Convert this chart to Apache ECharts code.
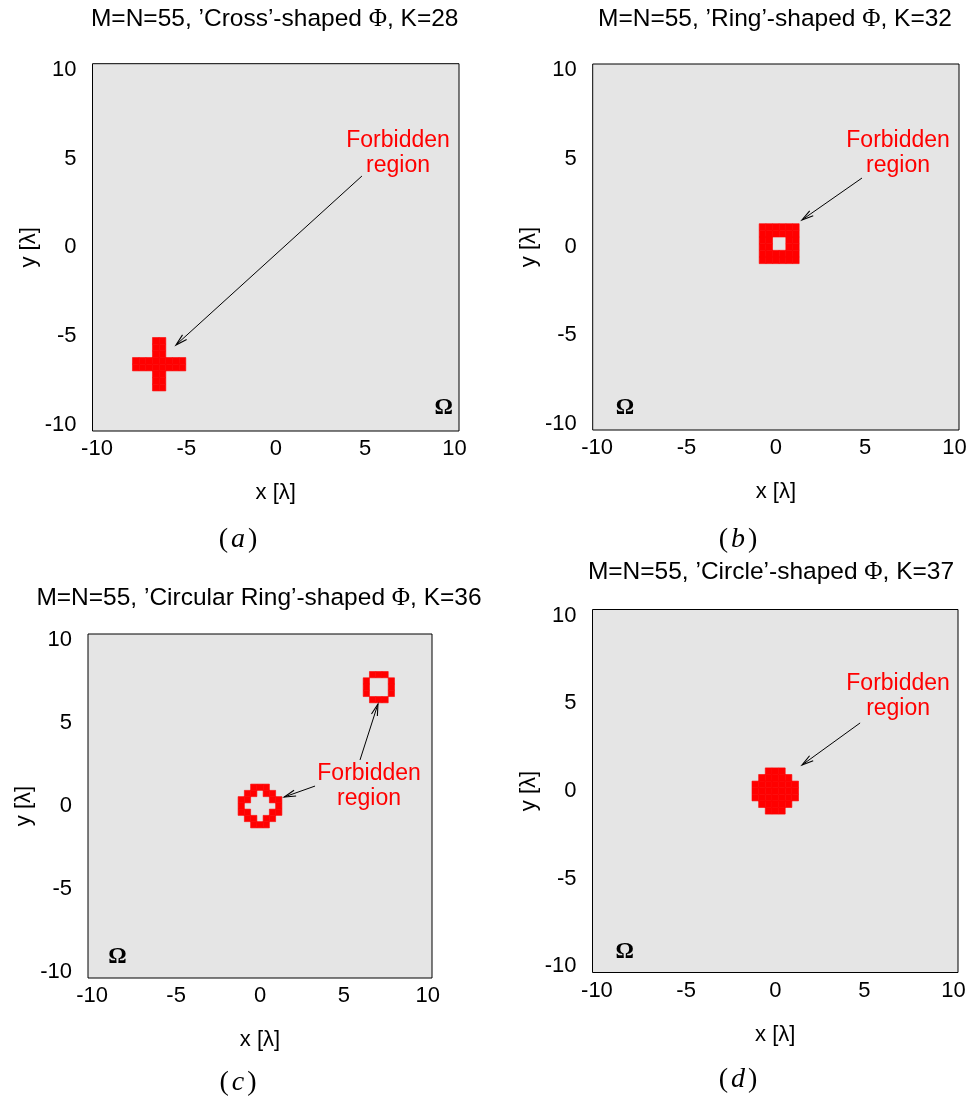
<!DOCTYPE html>
<html><head><meta charset="utf-8">
<script src="https://cdn.jsdelivr.net/npm/echarts@6/dist/echarts.min.js"></script>
<style>html,body{margin:0;padding:0;background:#fff}#c{width:973px;height:1098px}</style>
</head><body><div id="c"></div>
<script>
// ---------- data ----------
const gridSize = 55;                       // M = N = 55 cells per side
const xTicks = [-10, -5, 0, 5, 10];
const yTicks = [-10, -5, 0, 5, 10];
const panelTitles = [
  ["M=N=55, \u2019Cross\u2019-shaped ", ", K=28"],
  ["M=N=55, \u2019Ring\u2019-shaped ", ", K=32"],
  ["M=N=55, \u2019Circular Ring\u2019-shaped ", ", K=36"],
  ["M=N=55, \u2019Circle\u2019-shaped ", ", K=37"]
];
const panelTags = ["a", "b", "c", "d"];

// forbidden cells [column, row] (row counted from the bottom)
const cellsCross = [
  [9,6],[10,6],[9,7],[10,7],[9,8],[10,8],
  [6,9],[7,9],[8,9],[9,9],[10,9],[11,9],[12,9],[13,9],
  [6,10],[7,10],[8,10],[9,10],[10,10],[11,10],[12,10],[13,10],
  [9,11],[10,11],[9,12],[10,12],[9,13],[10,13]
];
const cellsRing = [
  [25,25],[26,25],[27,25],[28,25],[29,25],[30,25],
  [25,26],[26,26],[27,26],[28,26],[29,26],[30,26],
  [25,27],[26,27],[29,27],[30,27],
  [25,28],[26,28],[29,28],[30,28],
  [25,29],[26,29],[27,29],[28,29],[29,29],[30,29],
  [25,30],[26,30],[27,30],[28,30],[29,30],[30,30]
];
const cellsCircRing = [
  [26,24],[27,24],[28,24],
  [25,25],[26,25],[28,25],[29,25],
  [24,26],[25,26],[29,26],[30,26],
  [24,27],[30,27],
  [24,28],[25,28],[29,28],[30,28],
  [25,29],[26,29],[28,29],[29,29],
  [26,30],[27,30],[28,30],
  [45,44],[46,44],[47,44],
  [44,45],[48,45],
  [44,46],[48,46],
  [44,47],[48,47],
  [45,48],[46,48],[47,48]
];
const cellsCircle = [
  [26,24],[27,24],[28,24],
  [25,25],[26,25],[27,25],[28,25],[29,25],
  [24,26],[25,26],[26,26],[27,26],[28,26],[29,26],[30,26],
  [24,27],[25,27],[26,27],[27,27],[28,27],[29,27],[30,27],
  [24,28],[25,28],[26,28],[27,28],[28,28],[29,28],[30,28],
  [25,29],[26,29],[27,29],[28,29],[29,29],
  [26,30],[27,30],[28,30]
];
const panelCells = [cellsCross, cellsRing, cellsCircRing, cellsCircle];

// annotation arrows [xStart, yStart, xTip, yTip] in lambda units
const arrowsA = [[4.82, 4.02, -5.58, -5.5]];
const arrowsB = [[4.82, 3.9, 1.46, 1.53]];
const arrowsC = [[5.96, 2.77, 7.03, 6.14], [3.28, 1.2, 1.44, 0.54]];
const arrowsD = [[4.76, 3.88, 1.5, 1.48]];
const panelArrows = [arrowsA, arrowsB, arrowsC, arrowsD];

// label anchor points [x, y]
const forbiddenLabel = "Forbidden\nregion";
const forbiddenTextPos = [[6.84, 5.3], [6.84, 5.3], [6.5, 1.2], [6.89, 5.4]];
const omegaLabel = "\u03a9";
const omegaPos = [[9.4, -9.06], [-8.45, -9.1], [-8.5, -9.1], [-8.45, -9.18]];

// ---------- layout ----------
const grids = [
  {left: 92.5, top: 63.7, width: 366.5, height: 367.3},
  {left: 592.7, top: 64, width: 366.3, height: 366},
  {left: 88, top: 634, width: 344, height: 344},
  {left: 592.5, top: 609.5, width: 365.5, height: 363}
];
const titlePos = [[274.7, 19.5], [775, 19.5], [259, 598.7], [771, 572]];
const tagPos = [[238, 540], [738, 540], [238, 1083], [738, 1080]];
const xHalf = 10.25;
const yHalf = 10.35;

const FONT = "'Liberation Sans', Arial, sans-serif";
const SERIF = "'Liberation Serif', 'Times New Roman', serif";
const cats = Array.from({length: gridSize}, (_, i) => i);

function cellRender(params, api) {
  const p = api.coord([api.value(0), api.value(1)]);
  const s = api.size([1, 1]);
  return {type: 'rect', shape: {x: p[0] - s[0] / 2, y: p[1] - s[1] / 2, width: s[0], height: s[1]},
    style: {fill: '#ff0000', stroke: '#ff0000', lineWidth: 0.6}};
}
function arrowRender(params, api) {
  const a = api.coord([api.value(0), api.value(1)]);
  const b = api.coord([api.value(2), api.value(3)]);
  const ang = Math.atan2(b[1] - a[1], b[0] - a[0]);
  const L = 12, w = 0.26;
  const h1 = [b[0] - L * Math.cos(ang - w), b[1] - L * Math.sin(ang - w)];
  const h2 = [b[0] - L * Math.cos(ang + w), b[1] - L * Math.sin(ang + w)];
  return {type: 'group', children: [
    {type: 'line', shape: {x1: a[0], y1: a[1], x2: b[0], y2: b[1]}, style: {stroke: '#000', lineWidth: 1}},
    {type: 'polyline', shape: {points: [h1, b, h2]}, style: {stroke: '#000', lineWidth: 1.1, fill: null}}
  ]};
}
function makeTextRender(text, style) {
  return function (params, api) {
    const p = api.coord([api.value(0), api.value(1)]);
    return {type: 'text', x: p[0], y: p[1],
      style: Object.assign({text: text, align: 'center', verticalAlign: 'middle'}, style)};
  };
}

const option = {animation: false, backgroundColor: '#fff', grid: [], xAxis: [], yAxis: [], series: [], graphic: []};

grids.forEach((g, p) => {
  option.grid.push(Object.assign({show: true, backgroundColor: '#e5e5e5', borderColor: '#000', borderWidth: 1, containLabel: false}, g));
  option.xAxis.push({type: 'value', gridIndex: p, min: -xHalf, max: xHalf,
    name: 'x [\u03bb]', nameLocation: 'middle', nameGap: 51,
    nameTextStyle: {fontFamily: FONT, fontSize: 22, color: '#000'},
    axisLine: {show: false}, axisTick: {show: false}, splitLine: {show: false},
    axisLabel: {fontFamily: FONT, fontSize: 22, color: '#000', margin: 7, customValues: xTicks}});
  option.xAxis.push({type: 'category', gridIndex: p, data: cats, show: false, boundaryGap: true});
  option.yAxis.push({type: 'value', gridIndex: p, min: -yHalf, max: yHalf,
    name: 'y [\u03bb]', nameLocation: 'middle', nameGap: 53,
    nameTextStyle: {fontFamily: FONT, fontSize: 22, color: '#000'},
    axisLine: {show: false}, axisTick: {show: false}, splitLine: {show: false},
    axisLabel: {fontFamily: FONT, fontSize: 22, color: '#000', margin: 16, customValues: yTicks}});
  option.yAxis.push({type: 'category', gridIndex: p, data: cats, show: false, boundaryGap: true});

  option.series.push({type: 'custom', xAxisIndex: 2 * p + 1, yAxisIndex: 2 * p + 1,
    renderItem: cellRender, data: panelCells[p], silent: true, z: 2});
  option.series.push({type: 'custom', xAxisIndex: 2 * p, yAxisIndex: 2 * p,
    renderItem: arrowRender, data: panelArrows[p], encode: {x: [0, 2], y: [1, 3]}, silent: true, z: 3});
  option.series.push({type: 'custom', xAxisIndex: 2 * p, yAxisIndex: 2 * p, silent: true, z: 4,
    data: [forbiddenTextPos[p]],
    renderItem: makeTextRender(forbiddenLabel, {fill: '#ff0000', fontFamily: FONT, fontSize: 23, lineHeight: 25})});
  option.series.push({type: 'custom', xAxisIndex: 2 * p, yAxisIndex: 2 * p, silent: true, z: 4,
    data: [omegaPos[p]],
    renderItem: makeTextRender(omegaLabel, {fill: '#000', fontFamily: SERIF, fontWeight: 'bold', fontSize: 23})});

  option.graphic.push({type: 'text', x: titlePos[p][0], y: titlePos[p][1], silent: true,
    style: {text: '{a|' + panelTitles[p][0] + '}{f|\u03a6}{a|' + panelTitles[p][1] + '}',
      align: 'center', verticalAlign: 'middle',
      rich: {a: {fontFamily: FONT, fontSize: 24.5, fill: '#000'}, f: {fontFamily: SERIF, fontSize: 25, fill: '#000'}}}});
  option.graphic.push({type: 'text', x: tagPos[p][0], y: tagPos[p][1], silent: true,
    style: {text: '{p|(}{i|' + panelTags[p] + '}{p|)}', align: 'center', verticalAlign: 'middle',
      rich: {p: {fontFamily: SERIF, fontSize: 28, fill: '#000'}, i: {fontFamily: SERIF, fontStyle: 'italic', fontSize: 28, fill: '#000', padding: [0, 3, 0, 3]}}}});
});

const chart = echarts.init(document.getElementById('c'), null, {renderer: 'canvas'});
chart.setOption(option);
</script>
</body></html>
